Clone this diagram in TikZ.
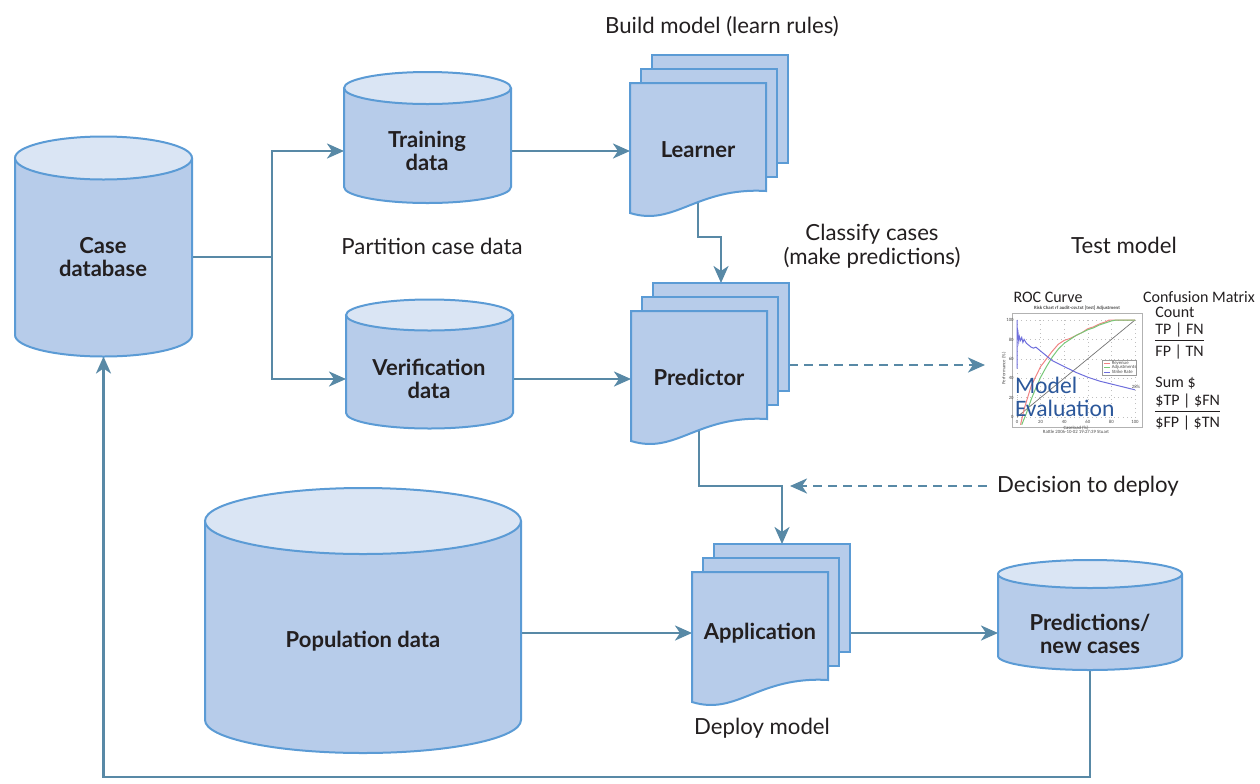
\documentclass[tikz,border=0pt]{standalone}
\usepackage{fontspec}
\setmainfont{Lato}
\newfontfamily\chartfont{Carlito}
\usetikzlibrary{arrows.meta}
\pgfdeclarelayer{bg}
\pgfsetlayers{bg,main}

\definecolor{cylfill}{RGB}{183,204,234}
\definecolor{cyltop}{RGB}{218,229,244}
\definecolor{shapeline}{RGB}{91,155,213}
\definecolor{flow}{RGB}{88,137,166}
\definecolor{ink}{RGB}{35,31,32}
\definecolor{evalblue}{RGB}{43,87,154}
\definecolor{revred}{RGB}{240,130,130}
\definecolor{adjgreen}{RGB}{120,200,120}
\definecolor{strikeblue}{RGB}{110,110,220}

\tikzset{
  shapebox/.style={fill=cylfill, draw=shapeline, line width=1pt},
  topface/.style={fill=cyltop, draw=shapeline, line width=1pt},
  flowline/.style={draw=flow, line width=1.3pt},
  arr/.style={flowline, -{Stealth[length=8.5pt,width=7.5pt,inset=2.5pt]}},
  darr/.style={arr, dash pattern=on 4.5pt off 3pt},
  lbl/.style={font=\fontsize{11.1}{12}\selectfont, text=ink, align=center, inner sep=0},
  blbl/.style={font=\bfseries\fontsize{11}{11.6}\selectfont, text=ink, align=center, inner sep=0},
  area/.style={inner sep=0, outer sep=0},
  chart/.style={font=\chartfont\fontsize{8}{9}\selectfont, text=ink, inner sep=0},
  tiny/.style={font=\chartfont\fontsize{2.4}{2.9}\selectfont, text=black!70, inner sep=0},
  gridc/.style={draw=black!25, line width=0.2pt, dotted},
}

% cylinder: name, centre x, half width, top centre y, bottom centre y, ellipse half height
\newcommand\cylinder[6]{%
  \path[shapebox] ({#2-#3},#4) -- ({#2-#3},#5)
     arc[start angle=180,end angle=360,x radius=#3*0.5pt,y radius=#6*0.5pt] -- ({#2+#3},#4);
  \path[topface] (#2,#4) ellipse[x radius=#3*0.5pt,y radius=#6*0.5pt];
  \node[area, minimum width=#3*1pt, minimum height={(#5-#4+2*#6)*0.5pt}] (#1) at (#2,{(#4+#5)/2}) {};
}

% stack of three documents: name, left x and top y of the front sheet
\newcommand\docstack[3]{%
  \node[area, shapebox, anchor=north west, minimum width=68pt, minimum height=54pt] (#1-back) at ({#2+22},{#3-28}) {};
  \node[area, shapebox, anchor=north west, minimum width=68pt, minimum height=54pt] (#1-mid) at ({#2+11},{#3-14}) {};
  \path[shapebox] (#2,#3) -- ({#2+136},#3) -- ({#2+136},{#3+108})
     .. controls ({#2+66},{#3+104}) and ({#2+45},{#3+144}) .. (#2,{#3+130}) -- cycle;
  \node[area, anchor=north west, minimum width=68pt, minimum height=54pt] (#1) at (#2,#3) {};
}

\begin{document}
\begin{tikzpicture}[x=0.5pt,y=-0.5pt]
\path[use as bounding box] (0,0) rectangle (1260,783);

% data stores
\cylinder{cdb}{103.5}{88.5}{158}{335}{21.5}
\cylinder{train}{427.5}{83.5}{88}{187}{16}
\cylinder{verif}{429.5}{83.5}{315}{413}{15.5}
\cylinder{pop}{363}{158}{521}{720}{33}
\cylinder{preds}{1090}{92}{574}{656}{14}

% model stages
\docstack{learner}{630}{83}
\docstack{predictor}{631}{311}
\docstack{app}{692}{572}

% labels inside the shapes
\node[blbl] (cdb-lab) at (103,257) {Case\\database};
\node[blbl] (train-lab) at (427,151) {Training\\data};
\node[blbl] (verif-lab) at (429,379) {Verification\\data};
\node[blbl] (pop-lab) at (363,641) {Population data};
\node[blbl] (preds-lab) at (1090,634) {Predictions/\\new cases};
\node[blbl] (learner-lab) at (698,150) {Learner};
\node[blbl] (predictor-lab) at (699,377) {Predictor};
\node[blbl] (app-lab) at (760,633) {Application};

% step captions
\node[lbl] (build) at (722,27) {Build model (learn rules)};
\node[lbl] (partition) at (432,246) {Partition case data};
\node[lbl] (classify) at (872,246) {Classify cases\\(make predictions)};
\node[lbl] (testm) at (1124,245) {Test model};
\node[lbl] (decide) at (1088,486) {Decision to deploy};
\node[lbl] (deploy) at (762,728) {Deploy model};

% model evaluation panel
\node[area, minimum width=80pt, minimum height=80pt] (roc) at (1065,365) {};
\node[chart] (roc-title) at (1048,297) {ROC Curve};
\node[tiny, font=\chartfont\bfseries\fontsize{2.4}{2.9}\selectfont] (roc-sub) at (1077,308) {Risk Chart rf audit-csv.txt [test] Adjustment};
\draw[black!30, line width=0.3pt] (1012,313) rectangle (1142,427);
\begin{scope}[shift={(1017,417)}, x=0.59pt, y=0.485pt]
  \foreach \g in {0,20,...,100} {
    \draw[gridc] (\g,0) -- (\g,100);
    \draw[gridc] (0,\g) -- (100,\g);
    \node[tiny, anchor=north] (xt\g) at (\g,-3) {\g};
    \node[tiny, anchor=east] (yt\g) at (-2.5,\g) {\g};
  }
  \node[tiny] (xaxis) at (50,-11) {Caseload (\%)};
  \node[tiny] (stamp) at (50,-15.5) {Rattle 2006-10-02 19:27:39 Stuart};
  \node[tiny, rotate=90] (yaxis) at (-11,50) {Performance (\%)};
  \draw[black!55, line width=0.35pt] (0,0) -- (100,100);
  \draw[revred, line width=0.5pt] plot coordinates {(3,-8) (6,8) (9,20) (12,32) (16,42) (20,52) (25,60) (30,68) (35,75) (40,79) (45,81) (50,84) (55,87) (60,91) (65,93) (70,96) (75,98) (78,100) (100,100)};
  \draw[adjgreen, line width=0.5pt] plot coordinates {(4,-8) (8,4) (12,18) (16,30) (20,41) (25,52) (30,62) (35,70) (40,76) (45,80) (50,84) (55,87) (60,90) (65,92) (70,95) (75,97) (80,99) (84,100) (100,100)};
  \draw[strikeblue, line width=0.5pt] plot coordinates {(0,50) (0,100) (0.5,80) (1,85) (1.5,78) (2,83) (3,79) (4,82) (5,77) (6,80) (8,76) (10,74) (12,72) (14,71) (16,72) (18,70) (20,68) (25,63) (30,58) (35,55) (40,52) (50,46) (60,41) (70,37) (80,34) (90,31) (100,28)};
  \node[tiny, anchor=west] (pct) at (97,31) {28\%};
  \draw[fill=white, draw=black!40, line width=0.2pt] (72,43) rectangle (101,59);
  \draw[revred, line width=0.4pt] (74,55.5) -- (79,55.5);
  \draw[adjgreen, line width=0.4pt] (74,51) -- (79,51);
  \draw[strikeblue, line width=0.4pt] (74,46.5) -- (79,46.5);
  \node[tiny, anchor=west] (leg1) at (80,55.5) {Revenue};
  \node[tiny, anchor=west] (leg2) at (80,51) {Adjustments};
  \node[tiny, anchor=west] (leg3) at (80,46.5) {Strike Rate};
\end{scope}
\node[area, font=\chartfont\fontsize{11.8}{11.5}\selectfont, text=evalblue, align=left, anchor=west] (evaltext) at (1015,397) {Model\\Evaluation};

% confusion matrix summary
\node[chart] (cm-title) at (1199,297) {Confusion Matrix};
\node[chart, anchor=west] (cm-count) at (1155,312) {Count};
\node[chart, anchor=west] (cm-r1) at (1155,332) {\underline{TP | FN}};
\node[chart, anchor=west] (cm-r2) at (1155,352) {FP | TN};
\node[chart, anchor=west] (cm-sum) at (1155,383) {Sum \$};
\node[chart, anchor=west] (cm-r3) at (1155,403) {\underline{\$TP | \$FN}};
\node[chart, anchor=west] (cm-r4) at (1155,423) {\$FP | \$TN};

% flow of data and models
\coordinate (split) at (272,257);
\coordinate (deploytip) at (790,486);
\begin{pgfonlayer}{bg}
  \draw[flowline] (cdb-lab -| cdb.east) -- (split);
  \draw[arr] (split) |- (train-lab -| train.west);
  \draw[arr] (split) |- (verif-lab -| verif.west);
  \draw[arr] (train-lab -| train.east) -- (train-lab -| learner.west);
  \draw[arr] (verif-lab -| verif.east) -- (verif-lab -| predictor.west);
  \draw[arr] (learner.south) -- ++(0,46) -| (predictor-back.north);
  \draw[darr] (roc.west -| predictor-back.east) -- (roc.west);
  \draw[arr] (predictor.south) -- ++(0,67) -| (app-back.north);
  \draw[darr] ([xshift=-5pt]decide.west) -- (deploytip);
  \draw[arr] (app-lab -| pop.east) -- (app-lab -| app.west);
  \draw[arr] (app-lab -| app-back.east) -- (app-lab -| preds.west);
  \draw[arr] (preds.south) -- ++(0,107) -| (cdb.south);
\end{pgfonlayer}
\end{tikzpicture}
\end{document}
